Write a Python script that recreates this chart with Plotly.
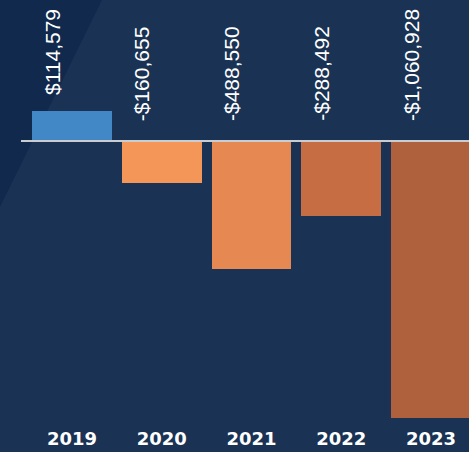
import plotly.graph_objects as go

years = ["2019", "2020", "2021", "2022", "2023"]
values = [114579, -160655, -488550, -288492, -1060928]
labels = ["$114,579", "-$160,655", "-$488,550", "-$288,492", "-$1,060,928"]
colors = ["#4287c6", "#f49658", "#e68852", "#c76d43", "#af613e"]

W, H = 469, 452
MB = 30
PH = H - MB
ZERO_PX = 141
PER_PX = 3825.0
x_lo, x_hi = -0.802, -0.802 + W / 89.75

def py_to_paper(py):
    return (PH - py) / PH

fig = go.Figure()
fig.add_trace(go.Bar(
    x=list(range(len(years))), y=values,
    marker=dict(color=colors, line=dict(width=0)),
    width=0.891,
    hoverinfo="skip",
))

# darker diagonal region at top-left
fig.add_shape(type="path", xref="paper", yref="paper", layer="below",
              path=f"M 0 {py_to_paper(0)} L {102/W} {py_to_paper(0)} L 0 {py_to_paper(207)} Z",
              fillcolor="#10294d", line=dict(width=0))

# zero line
fig.add_shape(type="line", xref="x", yref="y", x0=-0.568, x1=x_hi + 0.2, y0=0, y1=0,
              line=dict(color="#c9ccd1", width=2), layer="above")

for i, (v, t) in enumerate(zip(values, labels)):
    fig.add_annotation(x=i, y=max(v, 0), text=t, textangle=-90, showarrow=False,
                       xanchor="center", yanchor="bottom", xshift=-20,
                       yshift=14 if v > 0 else 18,
                       font=dict(family="Liberation Sans, Arial", size=21, color="#ffffff"))

fig.update_layout(
    width=W, height=H,
    margin=dict(l=0, r=0, t=0, b=MB),
    paper_bgcolor="#1a3253", plot_bgcolor="rgba(0,0,0,0)",
    showlegend=False, bargap=0,
    xaxis=dict(range=[x_lo, x_hi], tickmode="array", tickvals=list(range(len(years))),
               ticktext=years, showgrid=False, zeroline=False, showline=False,
               tickfont=dict(family="DejaVu Sans", size=18, color="#ffffff", weight="bold"),
               ticks="", ticklabelstandoff=4),
    yaxis=dict(range=[-(PH - ZERO_PX) * PER_PX, ZERO_PX * PER_PX], visible=False,
               showgrid=False, zeroline=False),
)

fig.write_html("out.html", config={"displayModeBar": False},
               post_script="document.body.style.margin='0';document.body.style.overflow='hidden';")
